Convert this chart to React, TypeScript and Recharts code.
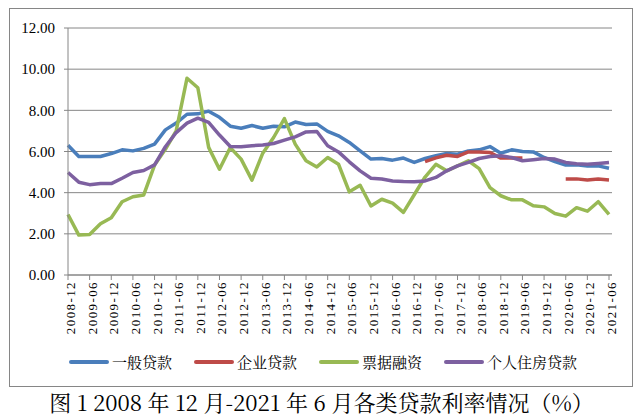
import { LineChart, Line, XAxis, YAxis, CartesianGrid, Legend } from 'recharts';

const categories = [
  '2008-12', '2009-03', '2009-06', '2009-09', '2009-12', '2010-03', '2010-06', '2010-09',
  '2010-12', '2011-03', '2011-06', '2011-09', '2011-12', '2012-03', '2012-06', '2012-09',
  '2012-12', '2013-03', '2013-06', '2013-09', '2013-12', '2014-03', '2014-06', '2014-09',
  '2014-12', '2015-03', '2015-06', '2015-09', '2015-12', '2016-03', '2016-06', '2016-09',
  '2016-12', '2017-03', '2017-06', '2017-09', '2017-12', '2018-03', '2018-06', '2018-09',
  '2018-12', '2019-03', '2019-06', '2019-09', '2019-12', '2020-03', '2020-06', '2020-09',
  '2020-12', '2021-03', '2021-06',
];

const generalLoan = [
  6.3, 5.76, 5.76, 5.76, 5.9, 6.08, 6.03, 6.15, 6.36, 7.05, 7.38, 7.81, 7.83, 7.96, 7.66, 7.23,
  7.13, 7.26, 7.13, 7.23, 7.2, 7.43, 7.31, 7.34, 6.98, 6.76, 6.44, 6.03, 5.63, 5.66, 5.58, 5.68,
  5.47, 5.66, 5.79, 5.9, 5.87, 6.03, 6.08, 6.24, 5.92, 6.08, 6.0, 5.98, 5.71, 5.51, 5.34, 5.35,
  5.3, 5.3, 5.19,
];

const corporateLoan = [
  null, null, null, null, null, null, null, null, null, null, null, null, null, null, null, null,
  null, null, null, null, null, null, null, null, null, null, null, null, null, null, null, null,
  null, 5.51, 5.69, 5.82, 5.76, 5.98, 5.98, 5.95, 5.68, 5.68, 5.69, null, null, null, 4.67, 4.67,
  4.62, 4.66, 4.62,
];

const billFinancing = [
  2.94, 1.94, 1.97, 2.49, 2.78, 3.56, 3.8, 3.89, 5.34, 6.11, 7.0, 9.56, 9.1, 6.2, 5.14, 6.19,
  5.63, 4.61, 5.92, 6.68, 7.6, 6.36, 5.55, 5.25, 5.71, 5.38, 4.04, 4.36, 3.35, 3.68, 3.49, 3.04,
  3.9, 4.76, 5.38, 5.06, 5.3, 5.55, 5.17, 4.25, 3.85, 3.65, 3.65, 3.36, 3.31, 2.99, 2.86, 3.27,
  3.1, 3.56, 2.94,
];

const housingLoan = [
  4.98, 4.51, 4.39, 4.44, 4.44, 4.7, 4.98, 5.08, 5.35, 6.23, 6.92, 7.38, 7.62, 7.41, 6.8, 6.24,
  6.23, 6.28, 6.32, 6.39, 6.55, 6.71, 6.95, 6.97, 6.28, 5.98, 5.5, 5.06, 4.7, 4.66, 4.57, 4.54,
  4.53, 4.57, 4.74, 5.06, 5.3, 5.47, 5.66, 5.76, 5.79, 5.71, 5.55, 5.6, 5.66, 5.63, 5.47, 5.41,
  5.38, 5.42, 5.47,
];

const yTicks = [0, 2, 4, 6, 8, 10, 12];

const series = [
  { key: 'general', name: '一般贷款', color: '#4A7EBB' },
  { key: 'corporate', name: '企业贷款', color: '#BE4B48' },
  { key: 'bill', name: '票据融资', color: '#98B954' },
  { key: 'housing', name: '个人住房贷款', color: '#7D60A0' },
];

const data = categories.map((date, i) => ({
  date,
  general: generalLoan[i],
  corporate: corporateLoan[i],
  bill: billFinancing[i],
  housing: housingLoan[i],
}));

const serif = "'Liberation Serif'";
const cjk = "'Noto Serif CJK SC'";

const DateTick = (props: any) => {
  const { x, y, payload } = props;
  return (
    <text
      transform={`translate(${x},${y}) rotate(-90)`}
      y={7}
      textAnchor="end"
      fontFamily={serif}
      fontSize={13}
      letterSpacing={1.4}
      fill="#000"
    >
      {payload.value}
    </text>
  );
};

const LegendRow = () => (
  <div style={{ display: 'flex', justifyContent: 'center', alignItems: 'center', height: 20, paddingLeft: 3 }}>
    {series.map((s, i) => (
      <div key={s.key} style={{ display: 'flex', alignItems: 'center', marginLeft: i === 0 ? 0 : 22 }}>
        <span style={{ display: 'inline-block', width: 40, height: 4, borderRadius: 2, background: s.color }} />
        <span style={{ marginLeft: 3, fontFamily: cjk, fontSize: 15, lineHeight: '20px', color: '#000' }}>{s.name}</span>
      </div>
    ))}
  </div>
);

export default function App() {
  return (
    <div style={{ position: 'absolute', left: 0, top: 0, width: 643, height: 420, background: '#fff' }}>
      <div
        style={{
          position: 'absolute', left: 9, top: 8, width: 624, height: 379,
          border: '1px solid #868686', boxSizing: 'border-box',
        }}
      />
      <div style={{ position: 'absolute', left: 0, top: 0 }}>
        <LineChart width={643} height={390} data={data} margin={{ top: 28, right: 31, left: 0, bottom: 55 }}>
          <CartesianGrid vertical={false} stroke="#868686" />
          <XAxis
            dataKey="date"
            interval={1}
            height={60}
            tick={<DateTick />}
            tickSize={5}
            tickMargin={1}
            padding={{ left: 0, right: 3 }}
            axisLine={{ stroke: '#868686' }}
            tickLine={{ stroke: '#868686' }}
          />
          <YAxis
            width={68}
            domain={[0, 12]}
            ticks={yTicks}
            tickFormatter={(v: number) => v.toFixed(2)}
            tick={{ fill: '#000', fontSize: 15, fontFamily: serif }}
            tickSize={4}
            tickMargin={9}
            axisLine={{ stroke: '#868686' }}
            tickLine={{ stroke: '#868686' }}
          />
          <Legend
            verticalAlign="middle"
            align="center"
            content={<LegendRow />}
            wrapperStyle={{ left: 0, top: 352, width: 643 }}
          />
          {series.map((s) => (
            <Line
              key={s.key}
              type="linear"
              dataKey={s.key}
              name={s.name}
              stroke={s.color}
              strokeWidth={3.5}
              strokeLinejoin="round"
              dot={false}
              activeDot={false}
              connectNulls={false}
              isAnimationActive={false}
            />
          ))}
        </LineChart>
      </div>
      <div
        style={{
          position: 'absolute', left: 0, top: 390, width: 643, height: 24, lineHeight: '24px',
          textAlign: 'center', fontFamily: cjk, fontSize: 22, color: '#000', whiteSpace: 'nowrap',
        }}
      >
        图 1 2008 年 12 月-2021 年 6 月各类贷款利率情况（%）
      </div>
    </div>
  );
}
